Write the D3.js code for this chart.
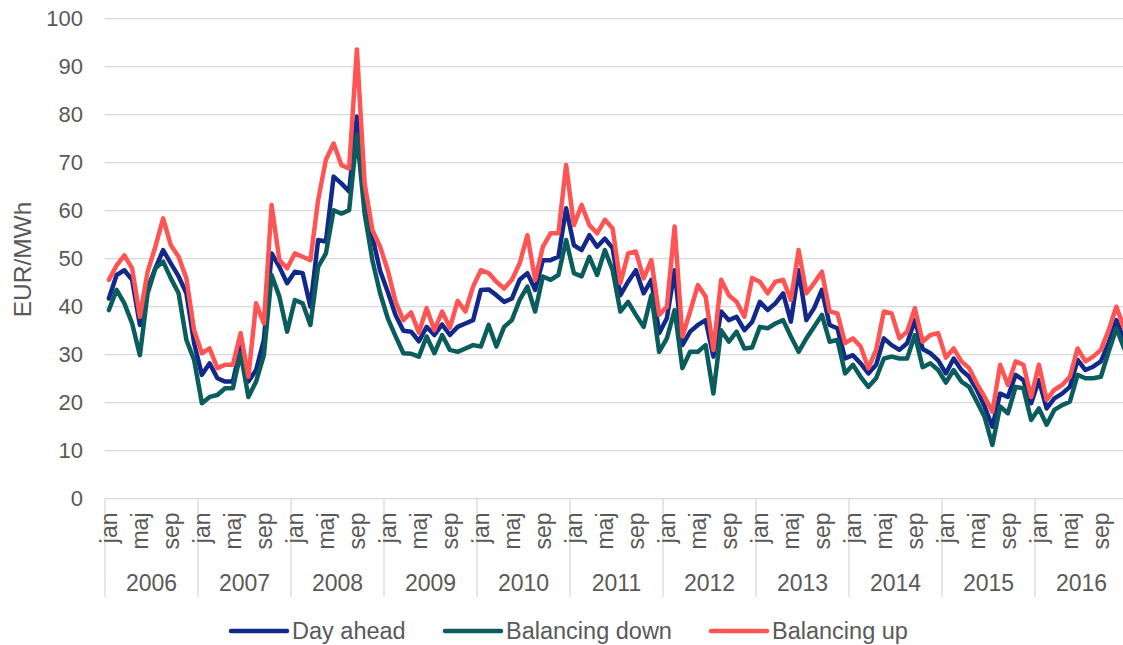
<!DOCTYPE html>
<html>
<head>
<meta charset="utf-8">
<script src="https://cdn.jsdelivr.net/npm/d3@7"></script>
<style>
  html, body { margin: 0; padding: 0; background: #ffffff; }
  svg { display: block; font-family: "Liberation Sans", Arial, sans-serif; }
</style>
</head>
<body>
<svg id="chart" width="1123" height="645"></svg>
<script>
// ---- data ----
const years = ["2006","2007","2008","2009","2010","2011","2012","2013","2014","2015","2016"];
const monthNames = ["jan","feb","mar","apr","maj","jun","jul","aug","sep","okt","nov","dec"];
const shownMonths = ["jan","maj","sep"];
const yTicks = [0,10,20,30,40,50,60,70,80,90,100];
const seriesNames = ["Day ahead","Balancing down","Balancing up"];

const dayAhead = [
  41.7,46.6,47.6,45.6,36.2,43.8,48.0,51.8,49.0,46.3,42.8,32.4,
  25.8,28.2,25.1,24.4,24.4,31.7,24.4,26.8,33.1,51.1,48.3,44.9,
  47.3,47.0,40.0,53.9,53.6,67.1,65.7,64.0,79.6,64.3,54.6,47.5,
  43.0,38.2,35.0,34.8,32.8,35.8,34.1,36.3,34.1,35.8,36.5,37.2,
  43.5,43.6,42.4,41.0,41.7,45.6,47.0,43.5,49.7,49.7,50.4,60.5,
  52.8,51.8,54.9,52.5,54.2,52.2,42.4,45.2,47.6,42.8,45.6,34.5,
  37.6,47.6,32.0,34.8,36.2,37.2,29.6,39.0,37.2,37.9,35.1,36.8,
  41.0,39.3,40.7,42.8,36.9,47.6,37.2,39.7,43.5,36.2,35.5,29.2,
  29.9,28.2,26.1,27.9,33.4,32.0,31.0,32.4,37.2,31.2,30.3,28.8,
  26.1,29.2,26.8,25.4,22.7,19.2,15.0,21.9,21.2,25.8,24.7,19.9,
  24.7,18.8,20.9,21.9,23.3,28.9,26.8,27.5,28.6,32.4,37.2,33.0
];
const balancingDown = [
  39.3,43.5,40.7,36.5,29.9,42.8,48.0,49.4,45.9,42.8,33.1,28.9,
  19.9,21.2,21.6,23.0,23.0,30.3,21.2,24.4,29.9,46.6,42.1,34.8,
  41.4,40.7,36.2,48.3,51.1,60.1,59.4,60.1,75.8,59.4,49.7,42.8,
  37.5,33.8,30.3,30.2,29.6,33.8,30.3,34.1,31.0,30.6,31.3,32.0,
  31.7,36.2,31.7,35.8,37.2,41.4,44.2,39.0,46.3,45.6,46.6,53.9,
  47.0,46.3,50.4,46.6,51.8,47.6,39.0,41.0,38.3,35.8,42.4,30.6,
  33.4,39.3,27.2,30.6,30.6,32.0,21.9,35.1,32.7,34.8,31.3,31.5,
  35.8,35.5,36.5,37.2,33.8,30.6,33.4,35.8,38.3,32.7,33.1,26.1,
  27.9,25.4,23.3,25.1,29.2,29.6,29.2,29.2,34.1,27.4,28.2,26.8,
  24.2,26.8,24.4,23.3,20.2,17.0,11.2,19.2,17.8,23.3,23.0,16.4,
  18.8,15.4,18.5,19.5,20.2,25.8,25.1,25.1,25.4,30.6,35.5,31.3
];
const balancingUp = [
  45.6,48.6,50.7,48.0,37.9,47.3,52.5,58.4,52.8,50.4,45.9,35.1,
  30.3,31.3,27.2,27.9,27.9,34.5,25.4,40.7,36.5,61.2,49.7,48.0,
  51.1,50.4,49.7,62.2,70.6,74.0,69.5,68.8,93.6,65.7,56.0,52.5,
  47.5,41.0,37.2,38.8,34.6,39.7,35.1,39.0,35.6,41.2,39.0,44.2,
  47.6,47.0,45.2,43.8,45.6,49.0,54.9,45.6,52.5,55.3,55.3,69.5,
  57.0,61.2,57.0,55.3,58.1,56.3,44.9,51.1,51.5,45.9,49.7,38.3,
  40.0,56.7,33.8,39.0,44.5,42.1,31.0,45.6,42.4,41.0,37.9,46.0,
  45.2,42.8,45.2,45.6,41.4,51.8,42.8,44.9,47.3,39.0,38.6,32.4,
  33.4,31.7,27.2,31.0,39.0,38.6,33.4,34.8,39.7,32.7,34.1,34.5,
  29.4,31.3,28.6,27.2,24.0,21.2,18.1,27.9,23.7,28.6,27.9,21.2,
  27.9,20.6,22.7,23.7,25.4,31.3,28.6,29.6,31.0,35.1,40.0,35.5
];
const seriesColors = ["#13298a","#0b5c5c","#ff5454"];

// ---- build ----
const cats = [];
years.forEach(y => monthNames.forEach(m => cats.push({year: y, month: m, key: y + "-" + m})));
const seriesValues = [dayAhead, balancingDown, balancingUp];

const svg = d3.select("#chart");
const left = 105, yearW = 93, right = left + yearW * years.length;
const x = d3.scaleBand().domain(cats.map(c => c.key)).range([left, right]).padding(0);
const xYear = d3.scaleBand().domain(years).range([left, right]).padding(0);
const y = d3.scaleLinear().domain([0, 100]).range([498.7, 18.7]);
const textColor = "#595959", gridColor = "#d9d9d9";

// gridlines
svg.append("g").selectAll("line").data(yTicks).join("line")
  .attr("x1", left).attr("x2", right)
  .attr("y1", d => y(d)).attr("y2", d => y(d))
  .attr("stroke", gridColor).attr("stroke-width", 1.3);

// y tick labels
svg.append("g").selectAll("text").data(yTicks).join("text")
  .attr("x", 83).attr("y", d => y(d)).attr("dy", "0.35em")
  .attr("text-anchor", "end").attr("font-size", 22).attr("fill", textColor)
  .text(d => d);

// y title
svg.append("text")
  .attr("transform", "translate(31,259.5) rotate(-90)")
  .attr("text-anchor", "middle").attr("font-size", 24.5).attr("fill", textColor)
  .text("EUR/MWh");

// year separators
const sepX = years.map(yv => xYear(yv)).concat([right]);
svg.append("g").selectAll("line").data(sepX).join("line")
  .attr("x1", d => d).attr("x2", d => d)
  .attr("y1", y(0)).attr("y2", 597)
  .attr("stroke", gridColor).attr("stroke-width", 1.3);

// small marks before jan
svg.append("g").selectAll("rect").data(years).join("rect")
  .attr("x", d => xYear(d) - 5).attr("y", 540.5).attr("width", 1.6).attr("height", 1.6)
  .attr("fill", textColor);

// month labels
const monthCats = cats.filter(c => shownMonths.includes(c.month));
svg.append("g").selectAll("text").data(monthCats).join("text")
  .attr("transform", d => `translate(${x(d.key) + x.bandwidth() / 2},512.5) rotate(-90)`)
  .attr("dy", "0.35em").attr("text-anchor", "end")
  .attr("font-size", 23).attr("fill", textColor)
  .text(d => d.month);

// year labels
svg.append("g").selectAll("text").data(years).join("text")
  .attr("x", d => xYear(d) + xYear.bandwidth() / 2).attr("y", 591)
  .attr("text-anchor", "middle").attr("font-size", 23).attr("fill", textColor)
  .text(d => d);

// lines
const line = d3.line()
  .x((d, i) => x(cats[i].key) + x.bandwidth() / 2)
  .y(d => y(d));
svg.append("g").selectAll("path").data(seriesValues).join("path")
  .attr("d", d => line(d))
  .attr("fill", "none")
  .attr("stroke", (d, i) => seriesColors[i])
  .attr("stroke-width", 4.5)
  .attr("stroke-linejoin", "round")
  .attr("stroke-linecap", "round");

// legend
const legendX = [231, 445, 711];
const lg = svg.append("g").selectAll("g").data(seriesNames).join("g")
  .attr("transform", (d, i) => `translate(${legendX[i]},631)`);
lg.append("line").attr("x1", 0).attr("x2", 56).attr("y1", 0).attr("y2", 0)
  .attr("stroke", (d, i) => seriesColors[i]).attr("stroke-width", 4.5).attr("stroke-linecap", "round");
lg.append("text").attr("x", 61).attr("y", 0).attr("dy", "0.35em")
  .attr("font-size", 23.5).attr("fill", textColor).text(d => d);
</script>
</body>
</html>
